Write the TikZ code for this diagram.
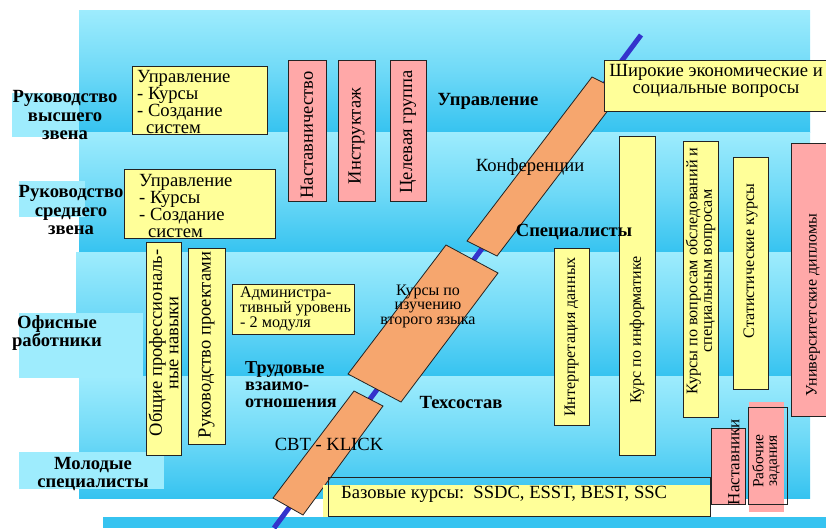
\documentclass[tikz,border=0pt]{standalone}
\usepackage{fontspec}
\setmainfont{Liberation Serif}
\definecolor{bandL}{RGB}{158,236,253}
\definecolor{bandD}{RGB}{54,195,240}
\definecolor{yel}{RGB}{255,255,153}
\definecolor{pnk}{RGB}{255,168,168}
\definecolor{org}{RGB}{246,166,110}
\definecolor{blu}{RGB}{51,51,204}
\definecolor{edge}{RGB}{35,35,35}
\newcommand\fN{\fontsize{18.6}{17}\selectfont}
\newcommand\fS{\fontsize{16.2}{14.4}\selectfont}
\newcommand\fT{\fontsize{16}{14.5}\selectfont}
\newcommand\fV{\fontsize{18.5}{16.5}\selectfont}
\newcommand\fR{\fontsize{16}{14}\selectfont}
\newcommand\fW{\fontsize{17}{14}\selectfont}
\newcommand\fX{\fontsize{15.5}{13.5}\selectfont}
\newcommand\fB{\fontsize{18.6}{18.6}\selectfont\bfseries}
\newcommand\fBt{\fontsize{18.2}{17}\selectfont\bfseries}
\tikzset{
  band/.style={top color=bandL, bottom color=bandD, middle color=bandL!55!bandD},
  ybox/.style={fill=yel, draw=edge, line width=0.8pt},
  pbox/.style={fill=pnk, draw=edge, line width=0.8pt},
  obox/.style={fill=org, draw=edge, line width=0.8pt},
  txt/.style={inner sep=0pt, font=\fN, align=center},
  btxt/.style={inner sep=0pt, font=\fB, align=center},
  vtxt/.style={inner sep=0pt, font=\fV, align=center, rotate=90},
}
\begin{document}
\begin{tikzpicture}[x=1pt,y=-1pt]
\useasboundingbox (0,0) rectangle (826,528);
\clip (0,0) rectangle (826,528);
% background bands
\shade[band] (79,10) rectangle (810,132);
\shade[band] (79,132) rectangle (810,252.5);
\shade[band] (76,252.5) rectangle (810,376);
\shade[band] (79,376) rectangle (810,498);
\fill[bandD] (103,517) rectangle (826,528);
% label backgrounds
\fill[bandL] (12,93) rectangle (79,137);
\fill[bandL] (19,181) rectangle (85,217);
\fill[bandL] (19,313) rectangle (143,378);
\fill[bandL] (19,452) rectangle (164,489);
% diagonal line
\coordinate (ltop) at (641,35);
\coordinate (lbot) at (274,528);
\draw[blu, line width=5pt] (ltop) -- (lbot);
% orange bars
\draw[obox] (592,77) -- (622,92) -- (497,256) -- (467,241) -- cycle;
\draw[obox] (446,245) -- (498,273) -- (401,402) -- (348,374) -- cycle;
\draw[obox] (354,391) -- (383,406) -- (303,515) -- (273,498) -- cycle;
% yellow boxes
\draw[ybox] (132,66) rectangle (267,134);
\draw[ybox] (124,169) rectangle (275,238);
\draw[ybox] (232,284) rectangle (354,334);
\draw[ybox] (604,60) rectangle (832,111);
\draw[ybox] (146,242) rectangle (181,455);
\draw[ybox] (188,248) rectangle (225,444);
\draw[ybox] (554,248) rectangle (589,425);
\draw[ybox] (619,136) rectangle (655,455);
\draw[ybox] (683,141) rectangle (718,417);
\draw[ybox] (733,157) rectangle (768,389);
\fill[yel] (323,485) rectangle (710,517);
\draw[edge, line width=0.8pt] (328,477) rectangle (710,516);
% pink boxes
\draw[pbox] (288,60) rectangle (326,201);
\draw[pbox] (338,60) rectangle (375,201);
\draw[pbox] (390,60) rectangle (426,201);
\draw[pbox] (791,143) rectangle (832,416);
\draw[pbox] (711,428) rectangle (745,504);
\fill[pnk] (749,402) rectangle (784,512);
\draw[edge, line width=0.8pt] (748,407) rectangle (787,504);
% left labels
\node[btxt] (l1) at (65,115) {Руководство\\высшего\\звена};
\node[btxt] (l2) at (71,210) {Руководство\\среднего\\звена};
\node[btxt] (l3) at (57,333) {Офисные\\работники};
\node[btxt] (l4) at (93,474) {Молодые\\специалисты};
% texts in horizontal boxes
\node[txt, align=left, anchor=west] (u1) at (137,101.5) {Управление\\- Курсы\\- Создание\\\hspace*{9pt}систем};
\node[txt, align=left, anchor=west] (u2) at (139,205.5) {Управление\\- Курсы\\- Создание\\\hspace*{9pt}систем};
\node[txt, align=left, anchor=west, font=\fS] (adm) at (240,308.5) {Администра-\\тивный уровень\\- 2 модуля};
\node[txt] (shir) at (716,81) {Широкие экономические и\\социальные вопросы};
\node[txt, anchor=west] (base) at (341,494) {Базовые курсы:\ \ SSDC, ESST, BEST, SSC};
% free labels
\node[btxt] (upr) at (488,101) {Управление};
\node[txt] (konf) at (530,167) {Конференции};
\node[btxt] (spec) at (574,232) {Специалисты};
\node[btxt, font=\fBt, align=left, anchor=west] (trud) at (245,385) {Трудовые\\взаимо-\\отношения};
\node[btxt] (tech) at (461,402) {Техсостав};
\node[txt] (cbt) at (329,444) {CBT - KLICK};
\node[txt, font=\fT] (lang) at (428,306) {Курсы по\\изучению\\второго языка};
% vertical texts
\node[vtxt] (v1) at (307,135) {Наставничество};
\node[vtxt] (v2) at (356.5,136) {Инструктаж};
\node[vtxt] (v3) at (408,132) {Целевая группа};
\node[vtxt] (v4) at (163.5,343) {Общие профессиональ-\\ные навыки};
\node[vtxt] (v5) at (206.5,345) {Руководство проектами};
\node[vtxt, font=\fR] (v6) at (571.5,337) {Интерпретация данных};
\node[vtxt, font=\fR] (v7) at (637,330) {Курс по информатике};
\node[vtxt, font=\fS] (v8) at (700.5,271) {Курсы по вопросам обследований и\\специальным вопросам};
\node[vtxt, font=\fR] (v9) at (750.5,261) {Статистические курсы};
\node[vtxt, font=\fR] (v10) at (813,305) {Университетские дипломы};
\node[vtxt, font=\fW] (v11) at (734,462) {Наставники};
\node[vtxt, font=\fX] (v12) at (766,461) {Рабочие\\задания};
\end{tikzpicture}
\end{document}
